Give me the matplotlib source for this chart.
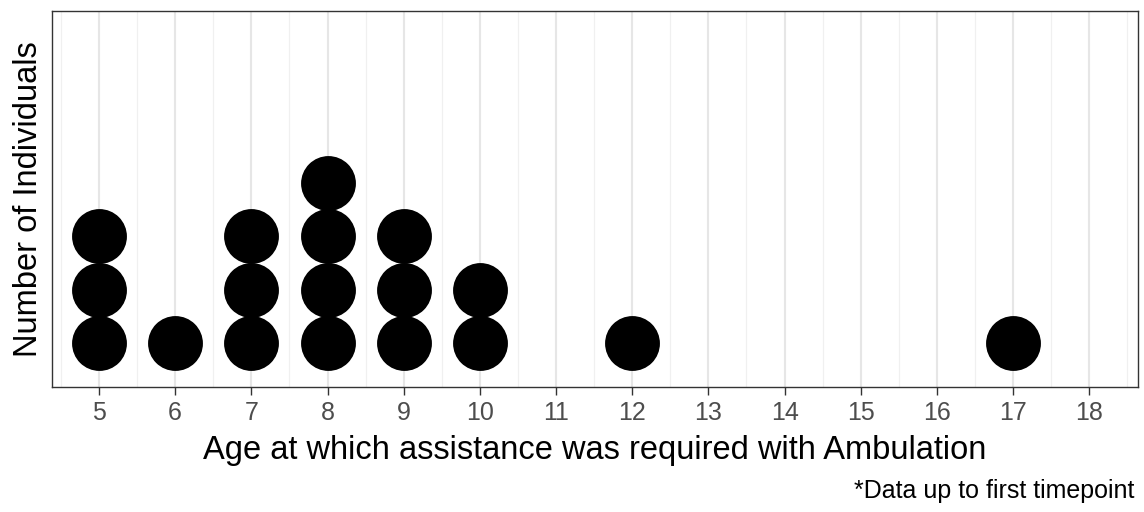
import matplotlib
matplotlib.use('Agg')
import matplotlib.pyplot as plt
import numpy as np

# age at which assistance was first needed, and how many individuals
ages = [5, 6, 7, 8, 9, 10, 12, 17]
counts = [3, 1, 3, 4, 3, 2, 1, 1]
xticks = list(range(5, 19))

plt.rcParams['font.family'] = ['Liberation Sans', 'DejaVu Sans']


def main():
    fig = plt.figure(figsize=(11.44, 5.12), dpi=100)
    ax = fig.add_axes([0.0455, 0.2441, 0.9493, 0.7344])

    # stack one dot per individual
    xs = []
    ys = []
    for a, c in zip(ages, counts):
        for k in range(c):
            xs.append(a)
            ys.append(k + 1)
    ax.scatter(xs, ys, s=39.5 ** 2, color='black', linewidths=0, zorder=3)

    ax.set_xlim(4.384, 18.64)
    ax.set_ylim(0.175, 7.23)

    ax.set_xticks(xticks)
    ax.set_xticks(np.arange(4.5, 19, 1.0), minor=True)
    ax.set_yticks([])
    ax.grid(which='major', axis='x', color='#E6E6E6', linewidth=1.5)
    ax.grid(which='minor', axis='x', color='#F0F0F0', linewidth=0.9)
    ax.set_axisbelow(True)

    ax.tick_params(axis='x', which='major', length=5.5, width=1.0, color='#333333',
                   labelsize=18, labelcolor='#4D4D4D', pad=4.5)
    ax.tick_params(axis='x', which='minor', length=0)
    for sp in ax.spines.values():
        sp.set_color('#333333')
        sp.set_linewidth(1.0)

    ax.set_xlabel('Age at which assistance was required with Ambulation',
                  fontsize=23.5, color='black', labelpad=7)
    ax.set_ylabel('Number of Individuals', fontsize=23.5, color='black', labelpad=6)
    fig.text(0.992, 0.027, '*Data up to first timepoint', ha='right', va='baseline',
             fontsize=18, color='black')

    fig.savefig('out.png', dpi=100)


if __name__ == '__main__':
    main()
